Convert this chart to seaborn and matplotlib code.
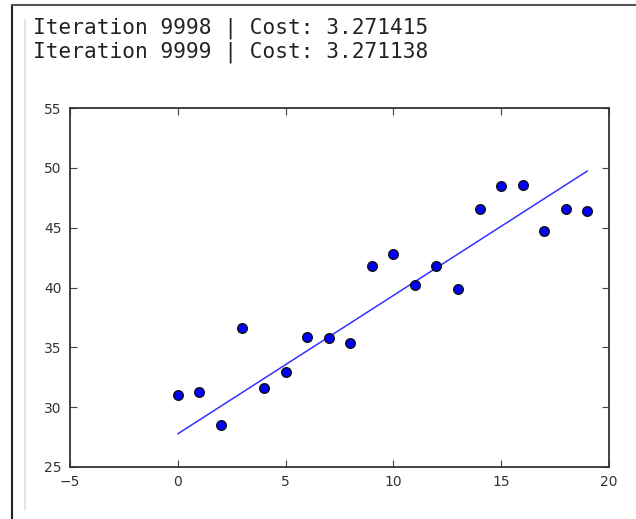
import numpy as np
import pandas as pd
import matplotlib
matplotlib.use('Agg')
import matplotlib.pyplot as plt
from matplotlib import lines
import seaborn as sns

# data
x_vals = [0, 1, 2, 3, 4, 5, 6, 7, 8, 9, 10, 11, 12, 13, 14, 15, 16, 17, 18, 19]
y_vals = [31.0, 31.3, 28.5, 36.6, 31.6, 32.9, 35.9, 35.8, 35.4, 41.8,
          42.8, 40.2, 41.8, 39.9, 46.6, 48.5, 48.6, 44.7, 46.6, 46.4]
fit_x = [0, 19]
fit_y = [27.77, 49.74]
log_lines = ['Iteration 9998 | Cost: 3.271415',
             'Iteration 9999 | Cost: 3.271138']

sns.set_style('white')
plt.rcParams['font.family'] = ['DejaVu Sans']

df = pd.DataFrame({'x': x_vals, 'y': y_vals})
df_fit = pd.DataFrame({'x': fit_x, 'y': fit_y})

fig = plt.figure(figsize=(6.36, 5.19), dpi=100)
ax = fig.add_axes([0.110, 0.1002, 0.8475, 0.6917])

sns.lineplot(data=df_fit, x='x', y='y', ax=ax, color='blue', lw=1.1, alpha=0.8)
sns.scatterplot(data=df, x='x', y='y', ax=ax, color='blue', edgecolor='#111111',
                linewidth=1.0, s=48, zorder=3)

ax.set_xlim(-5, 20)
ax.set_ylim(25, 55)
ax.set_xticks([-5, 0, 5, 10, 15, 20])
ax.set_yticks([25, 30, 35, 40, 45, 50, 55])
ax.set_xlabel('')
ax.set_ylabel('')
ax.tick_params(direction='in', length=5, width=0.8, color='#444444',
               labelsize=10, labelcolor='#333333', pad=6,
               top=True, right=True, bottom=True, left=True)
for sp in ax.spines.values():
    sp.set_visible(True)
    sp.set_color('#333333')
    sp.set_linewidth(1.3)

# notebook cell frame
fig.add_artist(lines.Line2D([12/636, 12/636], [0, 1 - 5/519], color='#222222', lw=1.5))
fig.add_artist(lines.Line2D([12/636, 1], [1 - 5/519, 1 - 5/519], color='#555555', lw=1.5))
fig.add_artist(lines.Line2D([25/636, 25/636], [1 - 510/519, 1 - 20/519], color='#e4e4f0', lw=1.5))

for i, t in enumerate(log_lines):
    fig.text(33/636, 1 - (28 + 24*i)/519, t, family='DejaVu Sans Mono',
             fontsize=15.2, color='#222222', va='center', ha='left')

fig.savefig('out.png', dpi=100)
